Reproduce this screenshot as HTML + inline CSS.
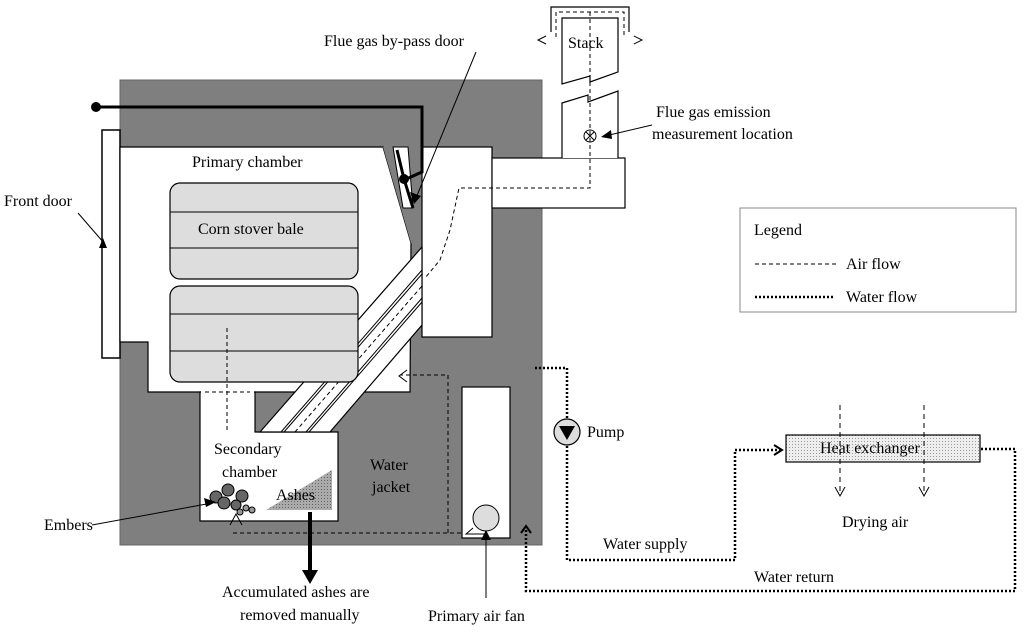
<!DOCTYPE html>
<html><head><meta charset="utf-8"><style>
body{margin:0;background:#fff}
svg{display:block}
</style></head><body>
<svg width="1024" height="637" viewBox="0 0 1024 637" font-family="'Liberation Serif', 'DejaVu Serif', serif" font-size="16">
<defs>
<pattern id="dots" width="3" height="3" patternUnits="userSpaceOnUse"><rect width="3" height="3" fill="#eee"/><rect width="1" height="1" fill="#999"/></pattern>
<pattern id="ash" width="3" height="3" patternUnits="userSpaceOnUse"><rect width="3" height="3" fill="#aaa"/><rect width="1" height="1" fill="#666"/></pattern>
</defs>
<!-- gray block -->
<rect x="120" y="80" width="422" height="465" fill="#7f7f7f" stroke="#666"/>
<!-- front door -->
<rect x="102" y="130" width="18" height="228" fill="#fff" stroke="#000" stroke-width="1.5"/>
<path d="M103 238 L99 248 L107 248 Z" fill="#000"/>
<!-- primary chamber -->
<path d="M120 147 L383 147 L411 243 L410 392 L148 392 L148 342 L120 342 Z" fill="#fff" stroke="#000" stroke-width="1.2"/>
<!-- neck + secondary -->
<path d="M200 392 L255 392 L255 432 L338 432 L338 521 L200 521 Z" fill="#fff" stroke="#000" stroke-width="1.2"/>
<rect x="201" y="390" width="53" height="4" fill="#fff"/>
<!-- gray wedge near door -->
<path d="M383 147 L393 147 L413 208 L422 245 L411 243 Z" fill="#7f7f7f"/>
<!-- right block -->
<rect x="422" y="147" width="70" height="190" fill="#fff" stroke="#000" stroke-width="1.2"/>
<!-- chute -->
<path d="M260 432 L422 247 L422 325 L330 432 Z" fill="#fff" stroke="#000" stroke-width="1.2"/>
<line x1="281" y1="432" x2="422" y2="270" stroke="#000" stroke-width="1"/>
<line x1="284" y1="432" x2="422" y2="274" stroke="#000" stroke-width="1"/>
<line x1="306" y1="432" x2="422" y2="298" stroke="#000" stroke-width="1"/>
<line x1="309" y1="432" x2="422" y2="302" stroke="#000" stroke-width="1"/>
<line x1="295" y1="432" x2="422" y2="286" stroke="#000" stroke-dasharray="4,3"/>
<!-- door opening -->
<path d="M393 147 L408 147 L413 208 L403 208 Z" fill="#fff" stroke="#000"/>
<!-- duct -->
<rect x="492" y="158" width="133" height="50" fill="#fff" stroke="#000" stroke-width="1.2"/>
<!-- stack -->
<path d="M562 158 L562 103 L588 95 L588 102 L618 91 L618 158" fill="#fff" stroke="#000" stroke-width="1.2"/>
<path d="M562 18 L618 18 L618 72 L590 82 L590 76 L562 84 Z" fill="#fff" stroke="#000" stroke-width="1.2"/>
<path d="M551 32 L551 7 L629 7 L629 32" fill="none" stroke="#000" stroke-width="1.2"/>
<path d="M556 37 L556 12 L624 12 L624 37" fill="none" stroke="#000" stroke-dasharray="4,3"/>
<path d="M546 36 L538 40 L546 44 M634 36 L642 40 L634 44" fill="none" stroke="#000"/>
<text x="568" y="48">Stack</text>
<circle cx="590" cy="136" r="6" fill="#fff" stroke="#000"/>
<path d="M586 132 L594 140 M594 132 L586 140" stroke="#000"/>
<!-- airflow dashed -->
<path d="M590 12 L590 188 L459 188 L450 230 L440 260 L425 278" fill="none" stroke="#000" stroke-dasharray="4,3"/>
<path d="M227 328 L227 432 M205 392 L250 392 M233 533 L472 533 M448 533 L448 375 L400 375" fill="none" stroke="#000" stroke-dasharray="4,3"/>
<path d="M407 370 L399 376 L407 382" fill="none" stroke="#000"/>
<!-- bypass door lever -->
<path d="M96 107 L422 107 L422 172 L404 180" fill="none" stroke="#000" stroke-width="3"/>
<circle cx="96" cy="107" r="5" fill="#000"/>
<circle cx="404" cy="179" r="5" fill="#000"/>
<path d="M397 150 L404 179 L413 208" stroke="#000" stroke-width="3" fill="none"/>
<!-- bales -->
<rect x="170" y="183" width="188" height="96" rx="10" fill="#ddd" stroke="#000" stroke-width="1.2"/>
<path d="M170 212 H358 M170 248 H358" stroke="#000"/>
<rect x="170" y="286" width="188" height="96" rx="10" fill="#ddd" stroke="#000" stroke-width="1.2"/>
<path d="M170 314 H358 M170 351 H358" stroke="#000"/>
<path d="M227 328 L227 382" stroke="#000" stroke-dasharray="4,3"/>
<text x="192" y="167">Primary chamber</text>
<text x="198" y="234">Corn stover bale</text>
<!-- secondary contents -->
<path d="M266 510 L332 470 L332 510 Z" fill="url(#ash)"/>
<text x="214" y="454">Secondary</text>
<text x="222" y="477">chamber</text>
<text x="276" y="500">Ashes</text>
<g fill="#666" stroke="#000">
<circle cx="216" cy="497" r="6"/><circle cx="228" cy="490" r="6"/><circle cx="242" cy="496" r="6"/><circle cx="224" cy="503" r="6"/><circle cx="236" cy="505" r="5"/>
<circle cx="246" cy="508" r="3" fill="#999"/><circle cx="252" cy="510" r="3" fill="#999"/><circle cx="240" cy="512" r="3" fill="#999"/>
</g>
<path d="M230 525 L236 514 L242 525" fill="none" stroke="#000"/>
<!-- ash removal arrow -->
<path d="M310 512 L310 572" stroke="#000" stroke-width="4"/>
<path d="M302 570 L310 584 L318 570 Z" fill="#000"/>
<text x="370" y="470">Water</text>
<text x="372" y="492">jacket</text>
<!-- fan -->
<rect x="462" y="387" width="48" height="151" fill="#fff" stroke="#000" stroke-width="1.2"/>
<circle cx="486" cy="518" r="13" fill="#ddd" stroke="#000"/>
<path d="M473 528 L466 534 L486 534" fill="none" stroke="#000"/>
<!-- labels & leader lines -->
<text x="324" y="46">Flue gas by-pass door</text>
<path d="M476 52 L416 198" stroke="#000"/>
<path d="M410 192 L414 204 L421 196 Z" fill="#000"/>
<text x="656" y="117">Flue gas emission</text>
<text x="652" y="139">measurement location</text>
<path d="M652 125 L605 136" stroke="#000"/>
<path d="M601 137 L611 130 L612 139 Z" fill="#000"/>
<text x="4" y="206">Front door</text>
<path d="M78 213 L104 243" stroke="#000"/>
<text x="44" y="530">Embers</text>
<path d="M92 525 L212 503" stroke="#000"/>
<path d="M216 502 L204 498 L206 507 Z" fill="#000"/>
<text x="222" y="597">Accumulated ashes are</text>
<text x="240" y="620">removed manually</text>
<text x="428" y="621">Primary air fan</text>
<path d="M486 598 L486 535" stroke="#000"/>
<path d="M481 540 L486 530 L491 540 Z" fill="#000"/>
<!-- water circuit -->
<g fill="none" stroke="#000" stroke-width="2.5" stroke-dasharray="2,2">
<path d="M535 368 L567 368 L567 418"/>
<path d="M567 446 L567 560 L735 560 L735 450 L780 450"/>
<path d="M981 449 L1015 449 L1015 591 L526 591 L526 530"/>
</g>
<path d="M774 445 L782 450 L774 455" fill="none" stroke="#000" stroke-width="2"/>
<path d="M521 533 L526 526 L531 533" fill="none" stroke="#000" stroke-width="2"/>
<circle cx="567" cy="432" r="13" fill="#ddd" stroke="#000" stroke-width="1.2"/>
<path d="M559 426 L575 426 L567 440 Z" fill="#000"/>
<text x="587" y="437">Pump</text>
<text x="603" y="549">Water supply</text>
<text x="754" y="582">Water return</text>
<!-- heat exchanger -->
<rect x="786" y="435" width="194" height="27" fill="url(#dots)" stroke="#000" stroke-width="1.2"/>
<text x="820" y="453">Heat exchanger</text>
<path d="M840 405 L840 495 M924 405 L924 495" stroke="#000" stroke-dasharray="5,4"/>
<path d="M835 487 L840 496 L845 487 M919 487 L924 496 L929 487" fill="none" stroke="#000"/>
<text x="842" y="527">Drying air</text>
<!-- legend -->
<rect x="740" y="208" width="276" height="104" fill="#fff" stroke="#888"/>
<text x="754" y="235">Legend</text>
<path d="M755 264 L838 264" stroke="#000" stroke-dasharray="4,3"/>
<text x="846" y="269">Air flow</text>
<path d="M755 297 L834 297" stroke="#000" stroke-width="2.5" stroke-dasharray="2,2"/>
<text x="846" y="302">Water flow</text>
</svg>
</body></html>
